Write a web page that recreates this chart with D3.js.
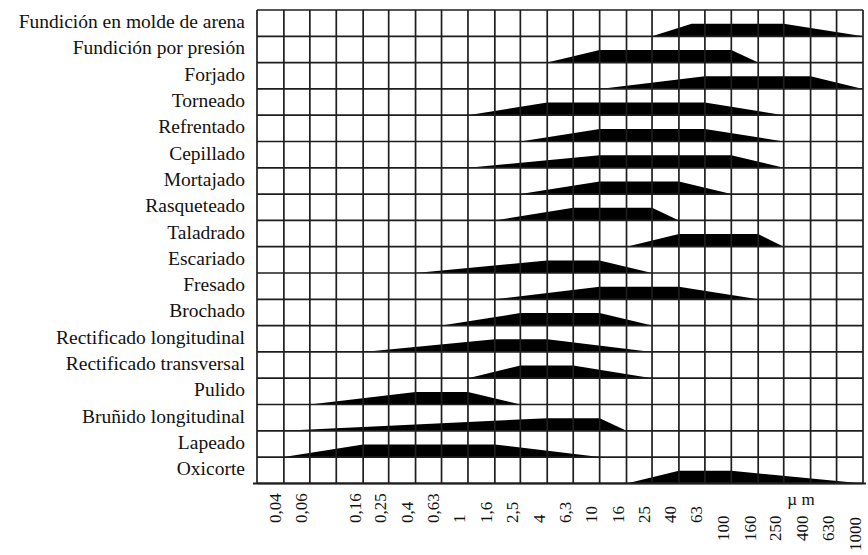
<!DOCTYPE html>
<html>
<head>
<meta charset="utf-8">
<script src="https://cdn.jsdelivr.net/npm/d3@7/dist/d3.min.js"></script>
<style>
  html, body { margin: 0; padding: 0; background: #fff; }
  svg { display: block; }
  text { font-family: "Liberation Serif", "Times New Roman", serif; fill: #111; }
</style>
</head>
<body>
<svg id="chart" width="868" height="555"></svg>
<script>
// Machining / forming processes, top to bottom
const processes = [
  "Fundición en molde de arena",
  "Fundición por presión",
  "Forjado",
  "Torneado",
  "Refrentado",
  "Cepillado",
  "Mortajado",
  "Rasqueteado",
  "Taladrado",
  "Escariado",
  "Fresado",
  "Brochado",
  "Rectificado longitudinal",
  "Rectificado transversal",
  "Pulido",
  "Bruñido longitudinal",
  "Lapeado",
  "Oxicorte"
];

// Roughness range per process (µm): extreme low, usual low, usual high, extreme high
const roughMin  = [25,   4,  10,  1, 2.5,   1, 2.5, 1.6,  16, 0.4, 1.6, 0.63, 0.16,   1, 0.063, 0.04, 0.04,   16];
const roughLow  = [50,  10,  63,  4,  10,  10,  10, 6.3,  40,   4,  10,  2.5,  1.6, 2.5,   0.4,    4, 0.16,   40];
const roughHigh = [250, 100, 400, 63,  63, 100,  40,  25, 160,  10,  40,   10,    4, 6.3,     1,   10,  1.6,  100];
const roughMax  = [1000, 160, 1000, 250, 250, 250, 100, 40, 250, 25, 160,   25,   25,  25,   2.5,   16,   10, 1000];

// Grid columns follow the R5 preferred-number series
const gridValues = [0.025, 0.04, 0.063, 0.1, 0.16, 0.25, 0.4, 0.63, 1, 1.6, 2.5, 4, 6.3,
                    10, 16, 25, 40, 63, 100, 160, 250, 400, 630, 1000];
const tickValues = [0.04, 0.063, 0.16, 0.25, 0.4, 0.63, 1, 1.6, 2.5, 4, 6.3,
                    10, 16, 25, 40, 63, 100, 160, 250, 400, 630, 1000];
const tickLabels = ["0,04", "0,06", "0,16", "0,25", "0,4", "0,63", "1", "1,6", "2,5", "4", "6,3",
                    "10", "16", "25", "40", "63", "100", "160", "250", "400", "630", "1000"];
const unitLabel = "µ m";

const svg = d3.select("#chart");
const plotLeft = 257, plotRight = 863, plotTop = 10, plotBottom = 483.4;

const x = d3.scaleLog().domain([0.025, 1000]).range([plotLeft, plotRight]);
const y = d3.scaleBand().domain(processes).range([plotTop, plotBottom]);
const shapeH = y.bandwidth() * 0.48;

const rows = processes.map((p, i) => ({
  name: p, min: roughMin[i], low: roughLow[i], high: roughHigh[i], max: roughMax[i]
}));

// Trapezoids: ramp up from the extreme low, flat over the usual range, ramp down
const line = d3.line().x(d => d[0]).y(d => d[1]);
svg.append("g").selectAll("path").data(rows).join("path")
  .attr("d", d => {
    const b = y(d.name) + y.bandwidth();
    return line([[x(d.min), b], [x(d.low), b - shapeH], [x(d.high), b - shapeH], [x(d.max), b]]) + "Z";
  })
  .attr("fill", "#000");

// Grid
const grid = svg.append("g").attr("stroke", "#1e1e1e").attr("stroke-width", 1.7);
grid.selectAll("line.v").data(gridValues).join("line")
  .attr("class", "v")
  .attr("x1", d => x(d)).attr("x2", d => x(d))
  .attr("y1", plotTop).attr("y2", plotBottom);
const rowEdges = processes.map(p => y(p)).concat([plotBottom]);
grid.selectAll("line.h").data(rowEdges).join("line")
  .attr("class", "h")
  .attr("x1", plotLeft).attr("x2", plotRight)
  .attr("y1", d => d).attr("y2", d => d);
svg.append("line")
  .attr("x1", plotLeft - 4).attr("x2", plotRight + 3)
  .attr("y1", plotBottom).attr("y2", plotBottom)
  .attr("stroke", "#1e1e1e").attr("stroke-width", 2);

// Row labels
svg.append("g").selectAll("text").data(processes).join("text")
  .attr("x", 245)
  .attr("y", d => y(d) + y.bandwidth() / 2 + 5)
  .attr("text-anchor", "end")
  .attr("font-size", 19.5)
  .text(d => d);

// Bottom axis, labels turned upright
const axis = d3.axisBottom(x)
  .tickValues(tickValues)
  .tickFormat((d, i) => tickLabels[i])
  .tickSize(0);
const ax = svg.append("g").call(axis);
ax.select(".domain").remove();
ax.selectAll(".tick").attr("transform", null);
ax.selectAll(".tick text")
  .attr("x", null).attr("y", null).attr("dy", null)
  .attr("fill", "#111")
  .attr("font-family", "Liberation Serif, Times New Roman, serif")
  .attr("font-size", 17)
  .attr("text-anchor", "start")
  .attr("transform", d => {
    const base = d >= 1000 ? 551 : (d >= 100 ? 541 : 523);
    return `translate(${x(d) - 2.5},${base}) rotate(-90)`;
  });

svg.append("text")
  .attr("x", 801).attr("y", 505)
  .attr("text-anchor", "middle")
  .attr("font-size", 17)
  .text(unitLabel);
</script>
</body>
</html>
